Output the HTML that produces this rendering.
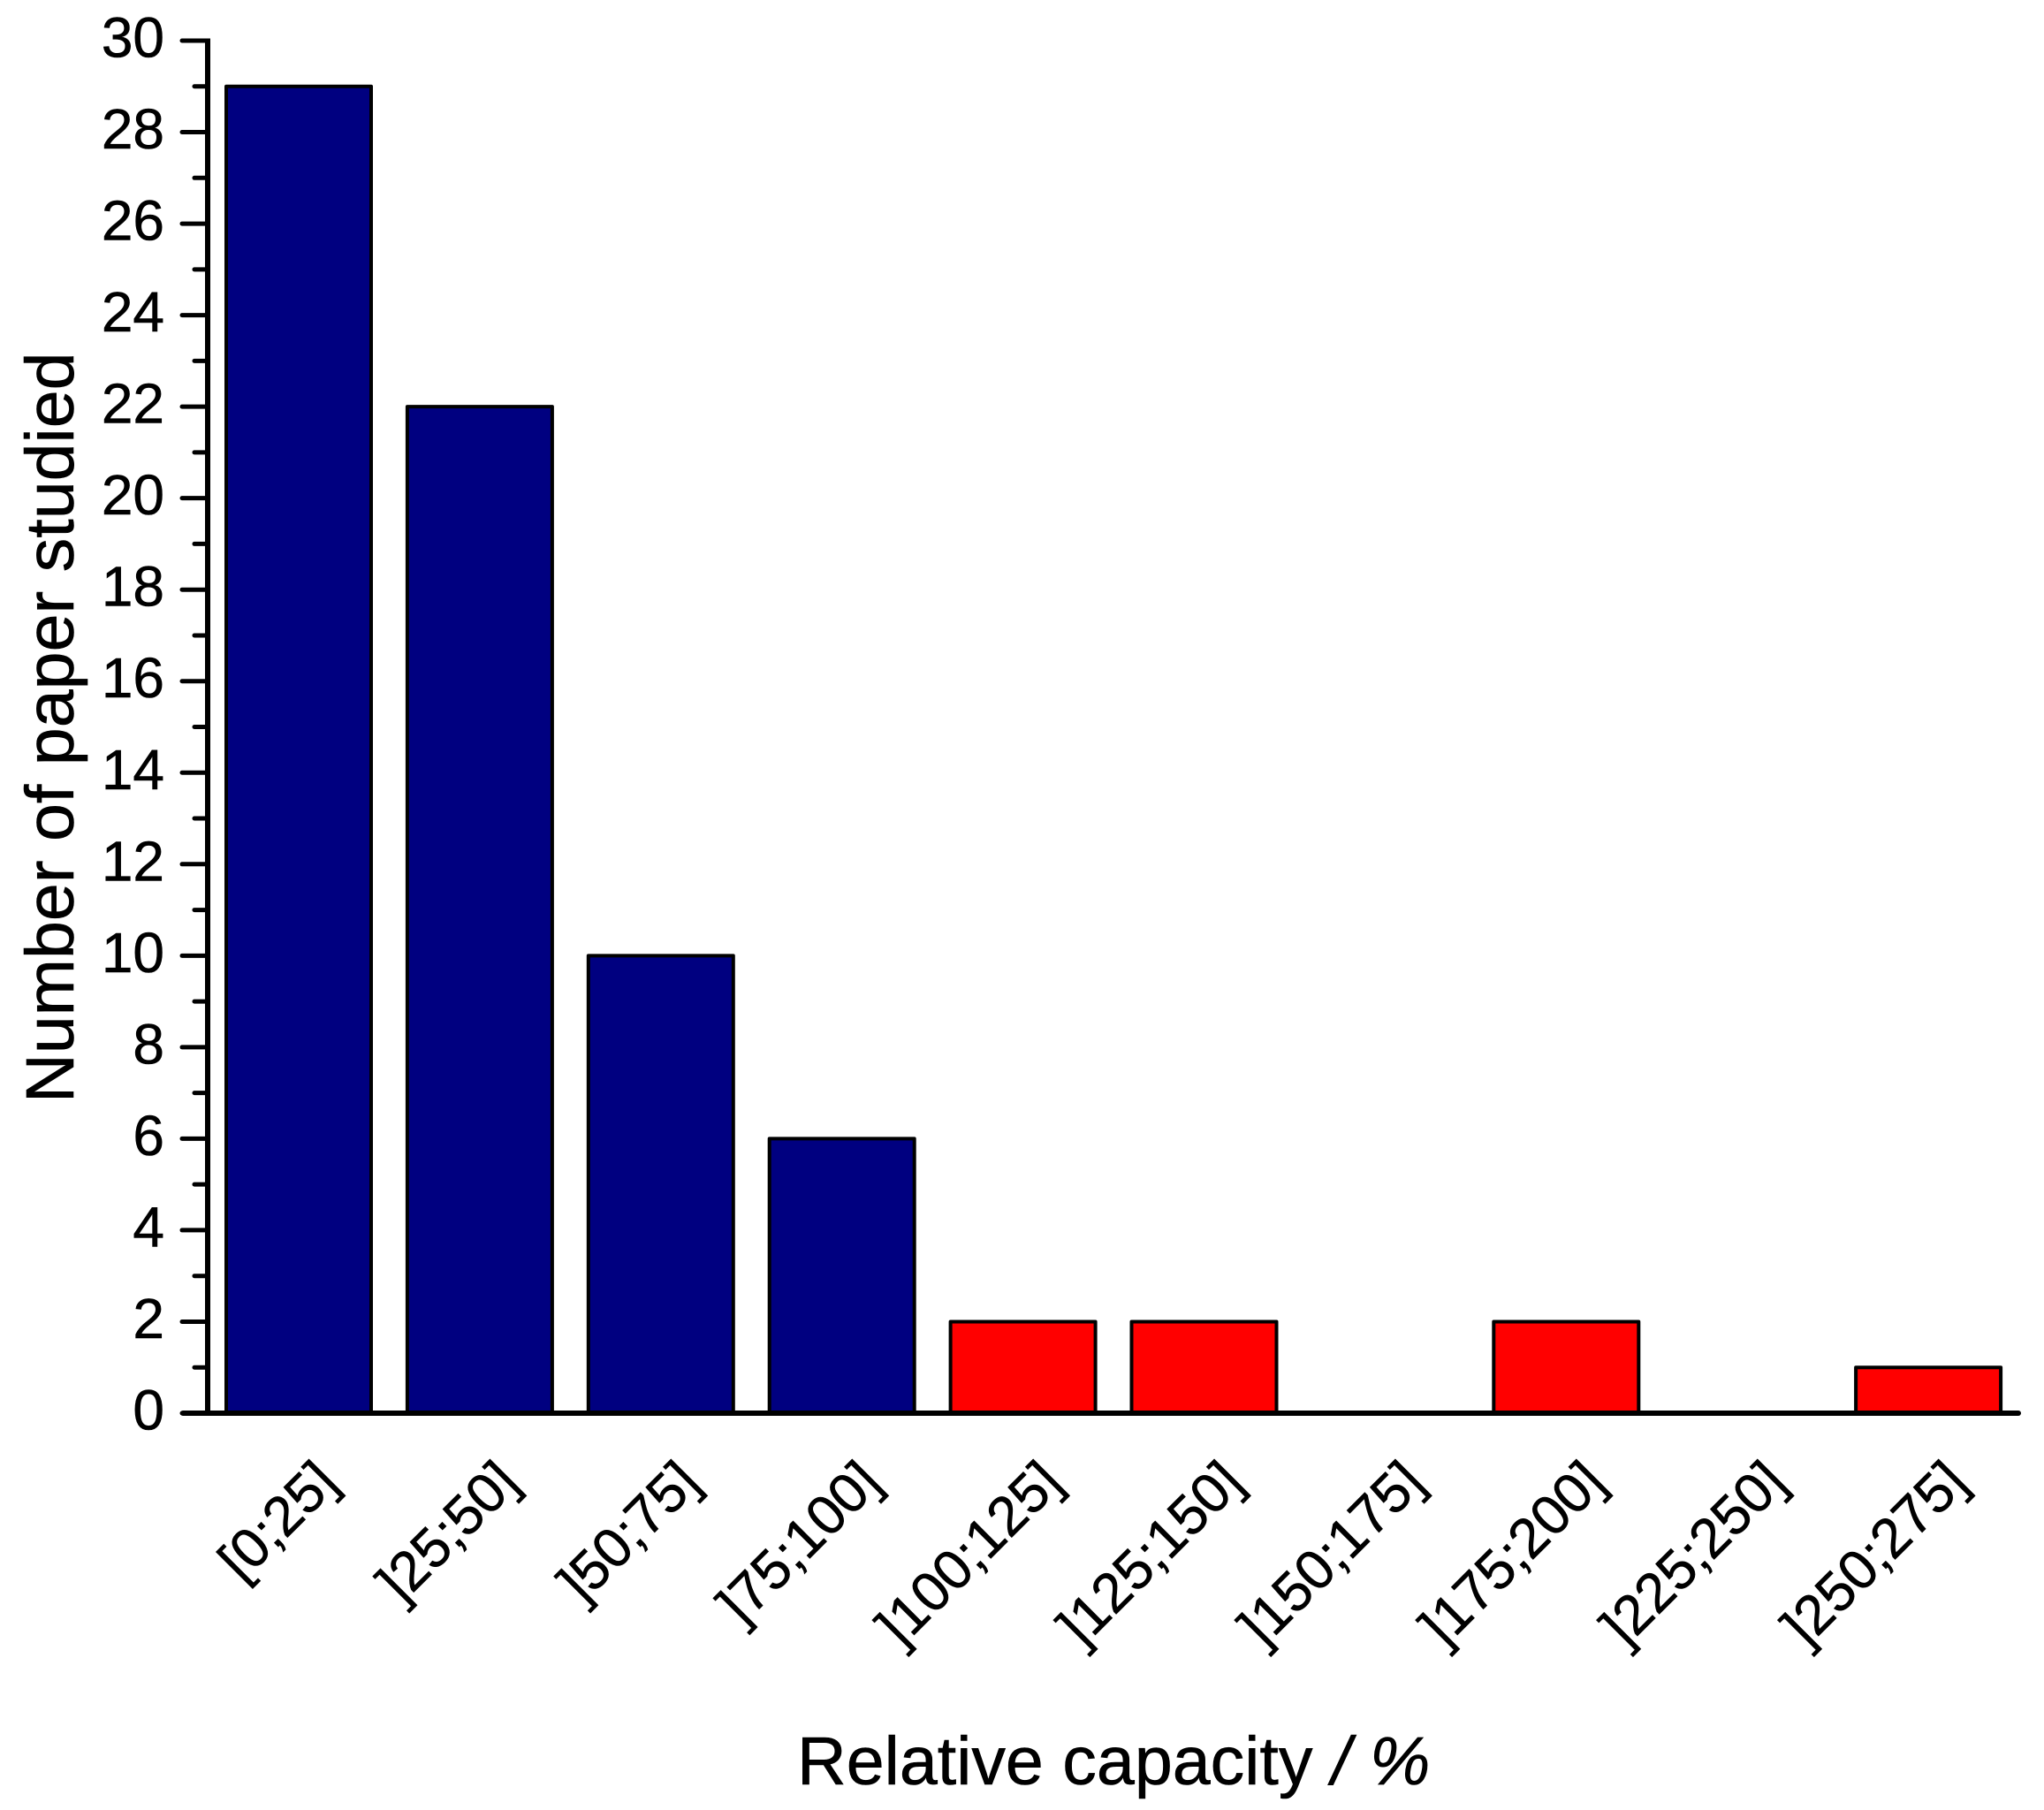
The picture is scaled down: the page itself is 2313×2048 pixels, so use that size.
<!DOCTYPE html>
<html lang="en">
<head>
<meta charset="utf-8">
<title>Relative capacity histogram</title>
<style>
  html, body { margin: 0; padding: 0; background: #fff; }
  svg { display: block; }
  text { font-family: "Liberation Sans", Arial, sans-serif; fill: #000; stroke: #000; stroke-width: 0.6px; }
</style>
</head>
<body>
<svg id="chart" xmlns="http://www.w3.org/2000/svg" width="2313" height="2048" viewBox="0 0 2313 2048">
  <rect x="0" y="0" width="2313" height="2048" fill="#ffffff"/>
  <g id="bars"></g>
  <g id="y-axis"></g>
  <g id="x-axis"></g>
  <text transform="translate(83,1248) rotate(-90)" font-size="77.2">Number of paper studied</text>
  <text x="902" y="2019" font-size="77.2">Relative capacity <tspan font-style="italic">/ %</tspan></text>
</svg>
<script>
const categories = ["[0;25]", "]25;50]", "]50;75]", "]75;100]", "]100;125]", "]125;150]", "]150;175]", "]175;200]", "]225;250]", "]250;275]"];
const lowCapacityValues = [29, 22, 10, 6, 0, 0, 0, 0, 0, 0];
const highCapacityValues = [0, 0, 0, 0, 2, 2, 0, 2, 0, 1];
const yMajorTickLabels = [0, 2, 4, 6, 8, 10, 12, 14, 16, 18, 20, 22, 24, 26, 28, 30];
const yMinorTicks = [1, 3, 5, 7, 9, 11, 13, 15, 17, 19, 21, 23, 25, 27, 29];

const NS = "http://www.w3.org/2000/svg";
const yTop = 46, yBottom = 1599, xAxisLine = 235, xEnd = 2287;
const yMax = 30;
const firstCenter = 338, pitch = 204.9, barWidth = 164;

function y(value) { return yBottom - (value / yMax) * (yBottom - yTop); }
function x(index) { return firstCenter + index * pitch; }

function make(tag, parent, attrs) {
  const el = document.createElementNS(NS, tag);
  for (const k in attrs) el.setAttribute(k, attrs[k]);
  parent.appendChild(el);
  return el;
}

const barsGroup = document.getElementById("bars");
const yGroup = document.getElementById("y-axis");
const xGroup = document.getElementById("x-axis");

function drawBars(values, color, prefix) {
  values.forEach(function (v, i) {
    if (v <= 0) return;
    const bar = make("rect", barsGroup, {
      x: x(i) - barWidth / 2, y: y(v), width: barWidth, height: y(0) - y(v),
      fill: color, stroke: "#000", "stroke-width": 4, "stroke-linejoin": "round"
    });
    
    
  });
}
drawBars(lowCapacityValues, "#000080", "low");
drawBars(highCapacityValues, "#ff0000", "high");

yMinorTicks.forEach(function (v) {
  const t = make("line", yGroup, { x1: 220, x2: xAxisLine, y1: y(v), y2: y(v), stroke: "#000", "stroke-width": 5, "stroke-linecap": "round" });
  
  
});
yMajorTickLabels.forEach(function (v) {
  const t = make("line", yGroup, { x1: 206, x2: xAxisLine, y1: y(v), y2: y(v), stroke: "#000", "stroke-width": 5, "stroke-linecap": "round" });
  
  
  const lab = make("text", yGroup, { x: 186, y: y(v) + 18.5, "text-anchor": "end", "font-size": 64 });
  
  
  lab.textContent = String(v);
});
const yLine = make("line", yGroup, { x1: xAxisLine, x2: xAxisLine, y1: y(yMax) - 2.5, y2: y(0), stroke: "#000", "stroke-width": 6 });



const xLine = make("line", xGroup, { x1: 207, x2: xEnd - 3, y1: y(0), y2: y(0), stroke: "#000", "stroke-width": 6, "stroke-linecap": "round" });



categories.forEach(function (c, i) {
  const ax = x(i) + 47, ay = 1680;
  const lab = make("text", xGroup, { transform: "translate(" + ax + "," + ay + ") rotate(-45)", "text-anchor": "end", "font-size": 63 });
  
  
  lab.textContent = c;
});
</script>
</body>
</html>
